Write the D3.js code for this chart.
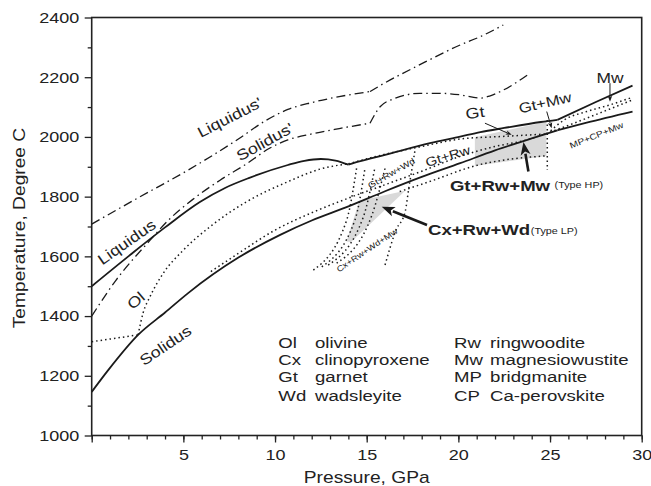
<!DOCTYPE html>
<html>
<head>
<meta charset="utf-8">
<script src="https://cdn.jsdelivr.net/npm/d3@7"></script>
<style>
body { margin: 0; background: #fff; }
text { font-family: "Liberation Sans", Arial, sans-serif; fill: #222; }
</style>
</head>
<body>
<svg id="chart" width="651" height="486"></svg>
<script>
// size of window
var width = 651, height = 486;
// the lettering in the original is set wide, so every text gets stretched
var stretch = 1.2;

// axis ticks
var xMajor = [0, 5, 10, 15, 20, 25, 30];
var xMinor = d3.range(0, 31, 1);
var yMajor = [1000, 1200, 1400, 1600, 1800, 2000, 2200, 2400];
var yMinor = [1100, 1300, 1500, 1700, 1900, 2100, 2300];

// phase boundaries, [pressure GPa, temperature C]
var liquidus = [[0,1500],[2,1600],[4,1697],[5.9,1782],[7.3,1830],[8.6,1863],[10.7,1906],[11.6,1920],[12.5,1926],[13.3,1921],[14.0,1907],[14.6,1918],[16,1940],[18.45,1979],[20.1,2001],[21.2,2016],[22.5,2030],[24.5,2050],[25.4,2057],[27.5,2117],[29.5,2172]];
var solidus = [[0,1146],[0.9,1219],[2.53,1337],[4,1412],[5.26,1477],[7.98,1595],[10.28,1672],[12,1720],[13.9,1765],[16,1818],[18,1866],[20.1,1912],[22,1955],[24,1995],[25.4,2022],[27,2048],[29.5,2085]];
var liquidusPrime = [[0,1708],[2.5,1795],[5.26,1889],[8,1993],[9.5,2055],[10.7,2092],[12,2115],[13.5,2135],[15.18,2152],[15.73,2172],[17.9,2242],[20.1,2308],[21.2,2336],[22.45,2375]];
var solidusPrime = [[0,1400],[1.3,1518],[3.2,1655],[4.2,1722],[5.5,1790],[7,1855],[8.5,1912],[9.7,1962],[10.7,1990],[12,2010],[13.5,2028],[15.18,2046],[15.73,2101],[16.5,2128],[17.9,2146],[19,2146],[20.1,2141],[21.2,2130],[21.7,2137],[22.45,2157],[23.9,2213]];

// dotted subsolidus / subliquidus boundaries
var olDotted = [[0,1314],[2.53,1337],[2.8,1410],[3.18,1465],[3.9,1543],[5.0,1621],[6.45,1699],[8.45,1783],[10.7,1850],[12.5,1893],[14.0,1910]];
var solAbove = [[6.5,1549],[8,1610],[10,1688],[12,1746],[14,1795],[16,1840],[18,1885],[20.1,1935],[22,1968],[23.6,1988],[25.4,2025],[27.5,2075],[29.5,2124]];
var bandDotted = [[14.0,1910],[16,1942],[18,1968],[20.1,1993],[22.5,2002],[24.85,2010],[25.8,2058],[27,2085],[28.3,2108],[29.5,2133]];
var hpLower = [[16.8,1817],[18.5,1852],[20.9,1903],[24.85,1937]];
var hpVertical = [[24.85,2057],[24.85,1889]];
var fan1 = [[12.09,1554],[13.91,1722],[14.46,1900]];
var fan2 = [[12.55,1565],[14.36,1722],[14.91,1897]];
var fan3 = [[12.9,1571],[14.8,1729],[15.45,1898]];
var fan4 = [[13.36,1577],[15.29,1739],[16.0,1895]];
var fanRight = [[16.0,1571],[16.6,1688],[17.1,1750],[17.3,1830],[17.55,1923],[17.65,1962]];

// grey stability fields
var hpRegion = [[20.9,1999],[24.8,2051],[24.8,1936],[20.9,1903]];
var lpRegion = [[14.6,1786],[17.1,1820],[14.15,1648],[13.9,1650]];

// legend
var abbrLeft = ["Ol", "Cx", "Gt", "Wd"];
var nameLeft = ["olivine", "clinopyroxene", "garnet", "wadsleyite"];
var abbrRight = ["Rw", "Mw", "MP", "CP"];
var nameRight = ["ringwoodite", "magnesiowustite", "bridgmanite", "Ca-perovskite"];

var svg = d3.select("#chart");

var x = d3.scaleLinear().domain([0, 30]).range([91.7, 641.7]);
var y = d3.scaleLinear().domain([1000, 2400]).range([435.5, 17.5]);

// grey fields first so lines lie on top
[hpRegion, lpRegion].forEach(function(poly) {
	svg.append("path")
		.attr("d", "M" + poly.map(function(d) { return x(d[0]) + "," + y(d[1]); }).join("L") + "Z")
		.attr("fill", "#d9d9d9");
});

var line = d3.line().x(function(d) { return x(d[0]); }).y(function(d) { return y(d[1]); }).curve(d3.curveMonotoneX);
var straight = d3.line().x(function(d) { return x(d[0]); }).y(function(d) { return y(d[1]); });

// split a curve at the pressures where it has a sharp corner
function pieces(pts, kinks) {
	var out = [], cur = [];
	pts.forEach(function(p) {
		cur.push(p);
		if (kinks.indexOf(p[0]) !== -1) { out.push(cur); cur = [p]; }
	});
	if (cur.length > 1) out.push(cur);
	return out;
}

function drawCurve(pts, kinks, dash, w) {
	pieces(pts, kinks).forEach(function(seg) {
		svg.append("path")
			.attr("d", line(seg))
			.attr("fill", "none")
			.attr("stroke", "#1a1a1a")
			.attr("stroke-width", w)
			.attr("stroke-dasharray", dash);
	});
}

var dashDot = "9,4,1.5,4";
var dots = "1.5,3";

drawCurve(liquidus, [14.0, 25.4], null, 1.8);
drawCurve(solidus, [25.4], null, 1.8);
drawCurve(liquidusPrime, [15.18], dashDot, 1.3);
drawCurve(solidusPrime, [15.18], dashDot, 1.3);

drawCurve(olDotted, [2.53], dots, 1.5);
drawCurve(solAbove, [], dots, 1.5);
drawCurve(bandDotted, [24.85], dots, 1.5);
drawCurve(hpLower, [], dots, 1.5);
[fan1, fan2, fan3, fan4, fanRight].forEach(function(f) { drawCurve(f, [], dots, 1.5); });
svg.append("path").attr("d", straight(hpVertical)).attr("fill", "none")
	.attr("stroke", "#1a1a1a").attr("stroke-width", 1.5).attr("stroke-dasharray", dots);

// frame
svg.append("rect")
	.attr("x", x(0)).attr("y", y(2400))
	.attr("width", x(30) - x(0)).attr("height", y(1000) - y(2400))
	.attr("fill", "none").attr("stroke", "#222").attr("stroke-width", 1.6);

// axes, minor ticks drawn as a second axis without labels
function styleAxis(g) {
	g.select(".domain").remove();
	g.selectAll(".tick line").attr("stroke", "#222").attr("stroke-width", 1.3);
	g.selectAll("text").attr("fill", "#222").style("font-size", "15px")
		.attr("transform", "scale(" + stretch + ",1)");
}
svg.append("g").attr("transform", "translate(0," + y(1000) + ")")
	.call(d3.axisBottom(x).tickValues(xMinor).tickSize(4).tickFormat(""))
	.call(styleAxis);
svg.append("g").attr("transform", "translate(0," + y(1000) + ")")
	.call(d3.axisBottom(x).tickValues(xMajor).tickSize(7).tickPadding(6.5)
		.tickFormat(function(d) { return d === 0 ? "" : d; }))
	.call(styleAxis);
svg.append("g").attr("transform", "translate(" + x(0) + ",0)")
	.call(d3.axisLeft(y).tickValues(yMinor).tickSize(4).tickFormat(""))
	.call(styleAxis);
svg.append("g").attr("transform", "translate(" + x(0) + ",0)")
	.call(d3.axisLeft(y).tickValues(yMajor).tickSize(7).tickPadding(3.3).tickFormat(d3.format("d")))
	.call(styleAxis);

// generic stretched text
function label(px, py, str, size, angle, opt) {
	opt = opt || {};
	return svg.append("text")
		.attr("transform", "translate(" + px + "," + py + ") rotate(" + angle + ") scale(" + stretch + ",1)")
		.attr("text-anchor", opt.anchor || "middle")
		.attr("dominant-baseline", opt.baseline || "central")
		.style("font-size", size + "px")
		.style("font-weight", opt.bold ? "bold" : "normal")
		.text(str);
}

label(366.7, 483, "Pressure, GPa", 16, 0, {baseline: "alphabetic"});
label(25, 228, "Temperature, Degree C", 16, -90, {baseline: "alphabetic"});

// curve and field names
label(x(7.53), y(2065), "Liquidus'", 15, -27);
label(x(9.45), y(1983), "Solidus'", 15, -29);
label(x(1.91), y(1647), "Liquidus", 15, -35);
label(x(2.42), y(1452), "Ol", 15, -40);
label(x(4.03), y(1301), "Solidus", 15, -34);
label(x(16.35), y(1878), "Gt+Rw+Wd", 8.5, -30);
label(x(19.43), y(1935), "Gt+Rw", 12.5, -17);
label(x(20.91), y(2080), "Gt", 15, -8);
label(x(24.73), y(2115), "Gt+Mw", 14, -13);
label(x(28.27), y(2198), "Mw", 14.5, 0);
label(x(27.54), y(2005), "MP+CP+Mw", 8.5, -22);
label(x(15.02), y(1621), "Cx+Rw+Wd+Mw", 8, -34);
label(x(22.27), y(1836), "Gt+Rw+Mw", 15.5, 0, {bold: true});
label(x(25.25), y(1839), "(Type HP)", 9, 0, {anchor: "start"});
label(x(21.13), y(1687), "Cx+Rw+Wd", 15.5, 0, {bold: true});
label(x(23.95), y(1685), "(Type LP)", 9, 0, {anchor: "start"});

// arrows, shaft from tail to tip with filled head
function arrow(p0, t0, p1, t1, w, headLen, headW) {
	var x0 = x(p0), y0 = y(t0), x1 = x(p1), y1 = y(t1);
	var dx = x1 - x0, dy = y1 - y0, len = Math.sqrt(dx * dx + dy * dy);
	var ux = dx / len, uy = dy / len;
	var bx = x1 - ux * headLen, by = y1 - uy * headLen;
	svg.append("line").attr("x1", x0).attr("y1", y0).attr("x2", bx + ux).attr("y2", by + uy)
		.attr("stroke", "#1a1a1a").attr("stroke-width", w);
	svg.append("path")
		.attr("d", "M" + x1 + "," + y1 +
			"L" + (bx - uy * headW / 2) + "," + (by + ux * headW / 2) +
			"L" + (bx + ux * headLen * 0.25) + "," + (by + uy * headLen * 0.25) +
			"L" + (bx + uy * headW / 2) + "," + (by - ux * headW / 2) + "Z")
		.attr("fill", "#1a1a1a");
}
arrow(23.82, 1884, 23.55, 1983, 2.6, 13, 10);
arrow(18.29, 1705, 15.82, 1766, 2.6, 13, 10);
arrow(21.45, 2046, 22.91, 2007, 1, 6, 4.5);
arrow(24.82, 2085, 25.09, 2029, 1, 6, 4.5);
arrow(28.27, 2180, 28.27, 2118, 1, 6, 4.5);

// legend
var rowT = [1292, 1235, 1178, 1117];
function legendColumn(abbr, names, pAbbr, pName) {
	abbr.forEach(function(a, i) {
		label(x(pAbbr), y(rowT[i]), a, 15.5, 0, {anchor: "start", baseline: "alphabetic"});
		label(x(pName), y(rowT[i]), names[i], 15.5, 0, {anchor: "start", baseline: "alphabetic"});
	});
}
legendColumn(abbrLeft, nameLeft, 10.18, 12.18);
legendColumn(abbrRight, nameRight, 19.76, 21.73);
</script>
</body>
</html>
